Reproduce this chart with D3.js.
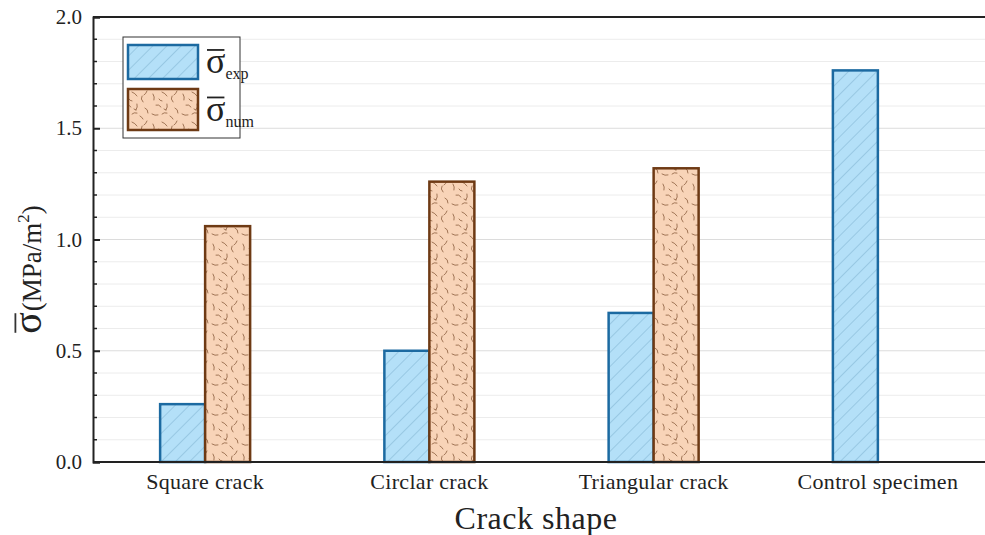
<!DOCTYPE html>
<html>
<head>
<meta charset="utf-8">
<script src="https://cdn.jsdelivr.net/npm/d3@7"></script>
<style>
  html, body { margin: 0; padding: 0; background: #fff; }
  svg { display: block; }
  text { font-family: "Liberation Serif", "DejaVu Serif", serif; fill: #222; }
</style>
</head>
<body>
<svg id="chart" width="985" height="535"></svg>
<script>
// Crack shapes along the x axis
const categories = ["Square crack", "Circlar crack", "Triangular crack", "Control specimen"];
// Mean stress, experimental and numerical (MPa/m²)
const expValues = [0.26, 0.50, 0.67, 1.76];
const numValues = [1.06, 1.26, 1.32, null];
const seriesKeys = ["exp", "num"];
const yTicks = [0.0, 0.5, 1.0, 1.5, 2.0];

const W = 985, H = 535;
const margin = { left: 93, right: -5, top: 17, bottom: 73 };
const svg = d3.select("#chart");
const serif = "Liberation Serif, serif";

const x = d3.scaleBand().domain(categories).range([margin.left, W - margin.right]).padding(0);
const y = d3.scaleLinear().domain([0, 2]).range([H - margin.bottom, margin.top]);
const barW = 45;

// Fill patterns
const defs = svg.append("defs");
const hatch = defs.append("pattern").attr("id", "hatch")
  .attr("patternUnits", "userSpaceOnUse").attr("width", 10).attr("height", 10)
  .attr("patternTransform", "rotate(45)");
hatch.append("rect").attr("width", 10).attr("height", 10).attr("fill", "#b4e0f8");
hatch.append("line").attr("x1", 0).attr("y1", 0).attr("x2", 0).attr("y2", 10)
  .attr("stroke", "#76aacb").attr("stroke-width", 0.9);

const speck = defs.append("pattern").attr("id", "speck")
  .attr("patternUnits", "userSpaceOnUse").attr("width", 30).attr("height", 30);
speck.append("rect").attr("width", 30).attr("height", 30).attr("fill", "#f8d4b8");
const squiggles = [
  "M3,4 q2,3 1,6", "M12,2 q3,1 5,4", "M22,6 q-2,3 1,6", "M6,15 q3,-1 5,2",
  "M17,14 q1,3 -1,6", "M25,18 q3,1 3,5", "M2,24 q3,2 6,1", "M12,24 q2,-2 5,-1",
  "M20,26 q2,1 3,3", "M9,9 q1,2 3,2", "M27,1 q-1,3 -3,4", "M14,19 l2,1"
];
speck.selectAll("path").data(squiggles).join("path")
  .attr("d", d => d).attr("fill", "none")
  .attr("stroke", "#7a4a2a").attr("stroke-width", 0.7).attr("stroke-linecap", "round");

// Grid lines at every 0.1
const minor = d3.range(1, 20).map(i => i / 10);
svg.append("g").selectAll("line").data(minor).join("line")
  .attr("x1", margin.left).attr("x2", W)
  .attr("y1", d => y(d)).attr("y2", d => y(d))
  .attr("stroke", (d, i) => ((i + 1) % 5 === 0) ? "#dcdcdc" : "#ececec")
  .attr("stroke-width", 1);

// Bars
const series = [
  { key: "exp", values: expValues, fill: "url(#hatch)", stroke: "#1c6aa1", offset: -barW },
  { key: "num", values: numValues, fill: "url(#speck)", stroke: "#6e3a14", offset: 0 }
];
series.forEach(s => {
  svg.append("g").selectAll("rect")
    .data(categories.map((c, i) => ({ c, v: s.values[i] })).filter(d => d.v != null))
    .join("rect")
    .attr("x", d => x(d.c) + x.bandwidth() / 2 + s.offset)
    .attr("y", d => y(d.v))
    .attr("width", barW)
    .attr("height", d => y(0) - y(d.v))
    .attr("fill", s.fill)
    .attr("stroke", s.stroke)
    .attr("stroke-width", 2.5);
});

// Frame: top line and bottom axis line
svg.append("line").attr("x1", margin.left).attr("x2", W).attr("y1", y(2)).attr("y2", y(2))
  .attr("stroke", "#222").attr("stroke-width", 1.8);
svg.append("line").attr("x1", margin.left).attr("x2", W).attr("y1", y(0)).attr("y2", y(0))
  .attr("stroke", "#222").attr("stroke-width", 2);

// Y axis with inward ticks
const yAxis = d3.axisLeft(y).tickValues(yTicks).tickFormat(d3.format(".1f")).tickSize(-7).tickPadding(11);
const gy = svg.append("g").attr("transform", `translate(${margin.left},0)`).call(yAxis);
gy.attr("font-family", serif).attr("font-size", 21);
gy.select(".domain").attr("stroke", "#222").attr("stroke-width", 2);
gy.selectAll(".tick line").attr("stroke", "#222").attr("stroke-width", 2);
gy.selectAll(".tick text").attr("fill", "#333");
svg.append("g").selectAll("line").data(minor.filter((d, i) => (i + 1) % 5 !== 0)).join("line")
  .attr("x1", margin.left).attr("x2", margin.left + 4)
  .attr("y1", d => y(d)).attr("y2", d => y(d))
  .attr("stroke", "#222").attr("stroke-width", 1.5);

// X axis labels
const xAxis = d3.axisBottom(x).tickSize(0).tickPadding(11);
const gx = svg.append("g").attr("transform", `translate(0,${y(0)})`).call(xAxis);
gx.attr("font-family", serif).attr("font-size", 22);
gx.select(".domain").remove();
gx.selectAll(".tick text").attr("fill", "#333").attr("letter-spacing", 0.3);

// X axis title
svg.append("text").attr("x", 536).attr("y", 529).attr("text-anchor", "middle")
  .attr("font-size", 32).attr("letter-spacing", 0.5).attr("fill", "#333").text("Crack shape");

// Sigma with overline, followed by an optional run of text
function sigmaLabel(g, x0, base, sigSize, color) {
  const s = g.append("text").attr("x", x0).attr("y", base)
    .attr("font-size", sigSize).attr("fill", color).text("σ");
  const w = s.node().getComputedTextLength();
  g.append("line").attr("x1", x0 + 1).attr("x2", x0 + w - 1)
    .attr("y1", base - sigSize * 0.64).attr("y2", base - sigSize * 0.64)
    .attr("stroke", color).attr("stroke-width", 1.8);
  return w;
}

// Y axis title
const yg = svg.append("g").attr("transform", "translate(41,270) rotate(-90)");
const rest = yg.append("text").attr("font-size", 27).attr("fill", "#333");
rest.append("tspan").text("(MPa/m");
rest.append("tspan").attr("font-size", 17).attr("dy", -12).text("2");
rest.append("tspan").attr("dy", 12).text(")");
const restW = rest.node().getComputedTextLength();
const probe = yg.append("text").attr("font-size", 40).text("σ");
const sigW = probe.node().getComputedTextLength();
probe.remove();
const start = -(sigW + restW) / 2;
sigmaLabel(yg, start, 0, 40, "#333");
rest.attr("x", start + sigW + 1);

// Legend
const lg = svg.append("g");
lg.append("rect").attr("x", 123).attr("y", 37).attr("width", 117).attr("height", 101)
  .attr("fill", "#fff").attr("stroke", "#333").attr("stroke-width", 1);
const legendItems = [
  { key: "exp", fill: "url(#hatch)", stroke: "#1c6aa1", y: 45, h: 34 },
  { key: "num", fill: "url(#speck)", stroke: "#6e3a14", y: 89, h: 41 }
];
legendItems.forEach(it => {
  lg.append("rect").attr("x", 128).attr("y", it.y).attr("width", 70).attr("height", it.h)
    .attr("fill", it.fill).attr("stroke", it.stroke).attr("stroke-width", 2.5);
  const base = it.y + it.h / 2 + 11;
  const w = sigmaLabel(lg, 206, base, 36, "#222");
  lg.append("text").attr("x", 206 + w).attr("y", base + 6)
    .attr("font-size", 16).attr("fill", "#333").text(it.key);
});
</script>
</body>
</html>
